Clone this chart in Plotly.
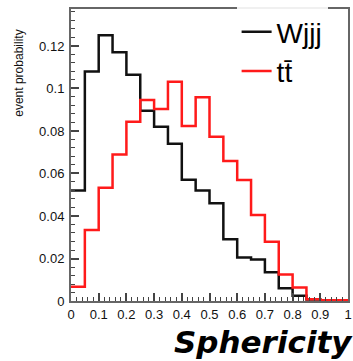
import plotly.graph_objects as go

bin_edges = [0.0, 0.05, 0.1, 0.15, 0.2, 0.25, 0.3, 0.35, 0.4, 0.45, 0.5,
             0.55, 0.6, 0.65, 0.7, 0.75, 0.8, 0.85, 0.9, 0.95, 1.0]
wjjj = [0.052, 0.108, 0.125, 0.117, 0.1065, 0.0895, 0.082, 0.074, 0.057, 0.052,
        0.046, 0.029, 0.0205, 0.0195, 0.0135, 0.006, 0.0025, 0.0007, 0.0003, 0.0002]
ttbar = [0.0067, 0.0334, 0.0533, 0.0689, 0.0844, 0.0946, 0.0904, 0.1032, 0.0824, 0.0959,
         0.0773, 0.0659, 0.0569, 0.0405, 0.0279, 0.0125, 0.0063, 0.0008, 0.0004, 0.0003]
x_ticks = [0, 0.1, 0.2, 0.3, 0.4, 0.5, 0.6, 0.7, 0.8, 0.9, 1]
x_labels = ["0", "0.1", "0.2", "0.3", "0.4", "0.5", "0.6", "0.7", "0.8", "0.9", "1"]
y_ticks = [0, 0.02, 0.04, 0.06, 0.08, 0.1, 0.12]
y_labels = ["0", "0.02", "0.04", "0.06", "0.08", "0.1", "0.12"]

W, H = 353, 361
L, R, T, B = 71, 1, 9, 60
plot_w = W - L - R
plot_h = H - T - B


def px_x(p):
    return (p - L) / plot_w


def px_y(p):
    return (H - B - p) / plot_h


fig = go.Figure()
fig.add_trace(go.Scatter(x=bin_edges, y=wjjj + [wjjj[-1]], mode="lines", line_shape="hv",
                         line=dict(color="#111111", width=2.5), name="Wjjj"))
fig.add_trace(go.Scatter(x=bin_edges, y=ttbar + [ttbar[-1]], mode="lines", line_shape="hv",
                         line=dict(color="#ff1a1a", width=2.5), name="tt\u0304"))

axis_common = dict(showline=True, linecolor="#666666", linewidth=2, mirror=True,
                   ticks="inside", tickcolor="#444444", tickwidth=1.5, ticklen=8,
                   showgrid=False, zeroline=False,
                   tickfont=dict(family="Liberation Sans", size=13, color="#111111"))

fig.update_layout(
    width=W, height=H,
    margin=dict(l=L, r=R, t=T, b=B),
    paper_bgcolor="white", plot_bgcolor="white",
    xaxis=dict(range=[0, 1], tickvals=x_ticks, ticktext=x_labels,
               minor=dict(dtick=0.02, ticks="inside", ticklen=4, tickcolor="#444444", tickwidth=1),
               ticklabelstandoff=0, ticklabeloverflow="allow", **axis_common),
    yaxis=dict(range=[0, 0.1374], tickvals=y_ticks, ticktext=y_labels,
               minor=dict(dtick=0.004, ticks="inside", ticklen=4, tickcolor="#444444", tickwidth=1),
               ticklabelstandoff=2, **axis_common),
    legend=dict(x=px_x(239), xanchor="left", y=px_y(7), yanchor="top",
                bgcolor="rgba(255,255,255,0.9)",
                font=dict(family="Liberation Sans", size=28, color="black"),
                itemwidth=30, tracegroupgap=0),
    showlegend=True,
    annotations=[
        dict(text="event probability", textangle=-90, x=px_x(18), y=px_y(73),
             xref="paper", yref="paper", showarrow=False,
             font=dict(family="Liberation Sans", size=12, color="#111111"),
             xanchor="center", yanchor="middle"),
        dict(text="<b><i>Sphericity</i></b>", x=px_x(359), y=px_y(362),
             xref="paper", yref="paper", xanchor="right", yanchor="bottom", showarrow=False,
             font=dict(family="DejaVu Sans", size=31, color="black")),
    ],
)

fig.write_html("out.html")
